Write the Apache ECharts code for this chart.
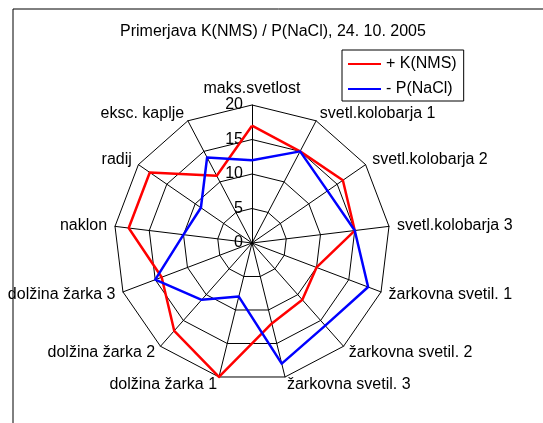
<!DOCTYPE html>
<html>
<head>
<meta charset="utf-8">
<script src="https://cdn.jsdelivr.net/npm/echarts@6/dist/echarts.min.js"></script>
<style>
  html, body { margin: 0; padding: 0; background: #fff; }
  #chart { width: 543px; height: 423px; }
</style>
</head>
<body>
<div id="chart"></div>
<script>
// osi v smeri urinega kazalca, od zgoraj
var axisNames = ['maks.svetlost', 'svetl.kolobarja 1', 'svetl.kolobarja 2', 'svetl.kolobarja 3',
  'žarkovna svetil. 1', 'žarkovna svetil. 2', 'žarkovna svetil. 3',
  'dolžina žarka 1', 'dolžina žarka 2', 'dolžina žarka 3', 'naklon', 'radij', 'eksc. kaplje'];
var kNMS = [17, 15, 16, 15, 10, 11, 12, 20, 17, 14, 18, 18, 11];
var pNaCl = [12, 15, 13.3, 15, 18, 16, 18, 8, 11, 15, 10, 9, 14];
var tickValues = [0, 5, 10, 15, 20];
var seriesNames = ['+ K(NMS)', '- P(NaCl)'];

var FONT = 'Liberation Sans';
var axisMax = tickValues[tickValues.length - 1];

// echarts riše radar v nasprotni smeri urinega kazalca
function clockwise(arr) {
  return [arr[0]].concat(arr.slice(1).reverse());
}

var myChart = echarts.init(document.getElementById('chart'));

var option = {
  animation: false,
  title: {
    text: 'Primerjava K(NMS) / P(NaCl), 24. 10. 2005',
    left: 120,
    top: 24,
    padding: 0,
    textStyle: { fontFamily: FONT, fontSize: 16, fontWeight: 'normal', color: '#000' }
  },
  legend: {
    orient: 'vertical',
    left: 342,
    top: 50,
    borderColor: '#000',
    borderWidth: 1,
    padding: [6, 7, 4, 6],
    itemGap: 9,
    itemWidth: 33,
    itemHeight: 2,
    icon: 'rect',
    textStyle: { fontFamily: FONT, fontSize: 16, color: '#000' },
    data: seriesNames
  },
  graphic: [{
    type: 'rect',
    shape: { x: 13, y: 9, width: 600, height: 500 },
    style: { fill: 'none', stroke: '#000', lineWidth: 1 }
  }],
  radar: [{
    center: [252, 243],
    radius: 138,
    startAngle: 90,
    shape: 'polygon',
    splitNumber: tickValues.length - 1,
    nameGap: 8,
    indicator: clockwise(axisNames).map(function (n) {
      return { name: n, min: 0, max: axisMax };
    }),
    axisName: { fontFamily: FONT, fontSize: 16, color: '#000' },
    axisLine: { lineStyle: { color: '#000', width: 1 } },
    splitLine: { lineStyle: { color: '#000', width: 1 } },
    splitArea: { show: false },
    axisTick: { show: false },
    axisLabel: { show: false }
  }, {
    // samo za oznake vrednosti na zgornji osi
    center: [252, 243],
    radius: 138,
    startAngle: 90,
    shape: 'polygon',
    splitNumber: tickValues.length - 1,
    indicator: [{ name: '', min: 0, max: axisMax }],
    axisName: { show: false },
    axisLine: { show: false },
    splitLine: { show: false },
    splitArea: { show: false },
    axisTick: { show: false },
    axisLabel: { show: true, fontFamily: FONT, fontSize: 16, color: '#000', margin: 9 }
  }],
  series: [{
    type: 'radar',
    radarIndex: 0,
    symbol: 'none',
    data: [{
      name: seriesNames[0],
      value: clockwise(kNMS),
      lineStyle: { color: '#ff0000', width: 2.5 },
      itemStyle: { color: '#ff0000' }
    }, {
      name: seriesNames[1],
      value: clockwise(pNaCl),
      lineStyle: { color: '#0000ff', width: 2.5 },
      itemStyle: { color: '#0000ff' }
    }]
  }]
};

myChart.setOption(option);
</script>
</body>
</html>
